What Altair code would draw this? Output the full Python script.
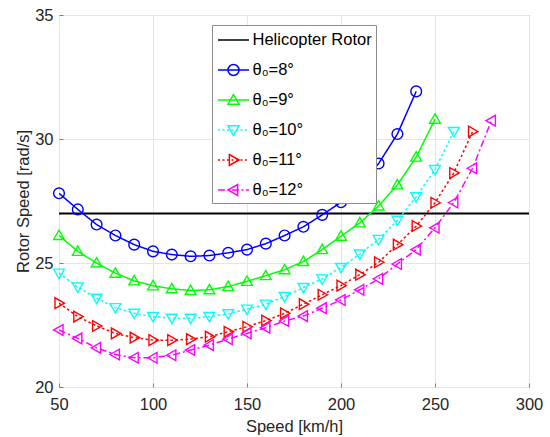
import altair as alt
import pandas as pd

# ---------------- data ----------------
series_names = ["Helicopter Rotor", "θ₀=8°", "θ₀=9°", "θ₀=10°", "θ₀=11°", "θ₀=12°"]
series_colors = ["#000000", "#0000ff", "#00ff00", "#00ffff", "#ff0000", "#ff00ff"]

heli_speed = [50, 300]
heli_rotor = [27.0, 27.0]

speed_8 = [50, 60, 70, 80, 90, 100, 110, 120, 130, 140, 150, 160, 170, 180, 190, 200, 210, 220, 230, 240]
rotor_8 = [27.81, 27.16, 26.55, 26.11, 25.74, 25.47, 25.34, 25.27, 25.30, 25.41, 25.54, 25.78, 26.11, 26.46,
           26.94, 27.45, 28.15, 29.01, 30.2, 31.92]

speed_9 = [50, 60, 70, 80, 90, 100, 110, 120, 130, 140, 150, 160, 170, 180, 190, 200, 210, 220, 230, 240, 250]
rotor_9 = [26.11, 25.47, 25.0, 24.59, 24.28, 24.08, 23.96, 23.89, 23.92, 24.05, 24.26, 24.49, 24.73, 25.06,
           25.54, 26.08, 26.62, 27.30, 28.15, 29.27, 30.8]

speed_10 = [50, 60, 70, 80, 90, 100, 110, 120, 130, 140, 150, 160, 170, 180, 190, 200, 210, 220, 230, 240, 250, 260]
rotor_10 = [24.59, 24.03, 23.58, 23.2, 22.97, 22.84, 22.77, 22.77, 22.84, 22.95, 23.14, 23.34, 23.65, 24.01,
            24.36, 24.82, 25.36, 25.95, 26.72, 27.67, 28.77, 30.3]

speed_11 = [50, 60, 70, 80, 90, 100, 110, 120, 130, 140, 150, 160, 170, 180, 190, 200, 210, 220, 230, 240, 250,
            260, 270]
rotor_11 = [23.38, 22.84, 22.46, 22.16, 21.99, 21.89, 21.89, 21.93, 22.03, 22.23, 22.43, 22.68, 22.97, 23.34,
            23.72, 24.09, 24.53, 25.03, 25.74, 26.49, 27.43, 28.63, 30.3]

speed_12 = [50, 60, 70, 80, 90, 100, 110, 120, 130, 140, 150, 160, 170, 180, 190, 200, 210, 220, 230, 240, 250,
            260, 270, 280]
rotor_12 = [22.30, 21.96, 21.58, 21.31, 21.18, 21.18, 21.28, 21.49, 21.69, 21.93, 22.16, 22.39, 22.66, 22.86,
            23.18, 23.51, 23.92, 24.36, 24.96, 25.54, 26.42, 27.44, 28.82, 30.74]

x_ticks = [50, 100, 150, 200, 250, 300]
y_ticks = [20, 25, 30, 35]

# ---------------- table ----------------
rows = []
for name, xs, ys in [
    (series_names[0], heli_speed, heli_rotor),
    (series_names[1], speed_8, rotor_8),
    (series_names[2], speed_9, rotor_9),
    (series_names[3], speed_10, rotor_10),
    (series_names[4], speed_11, rotor_11),
    (series_names[5], speed_12, rotor_12),
]:
    for x, y in zip(xs, ys):
        rows.append({"series": name, "speed": x, "rotor": y})
df = pd.DataFrame(rows)

# ---------------- styles ----------------
FONT = "Liberation Sans"
FS = 16.5
AXIS_GRAY = "#7f7f7f"
line_dashes = [[1, 0], [1, 0], [1, 0], [2.5, 2.5], [2.5, 2.5], [7, 3, 2, 3]]

marker_circle = "M1,0A1,1,0,1,1,-1,0A1,1,0,1,1,1,0Z"
marker_up = "M0,-1L1,0.75L-1,0.75Z"
marker_down = "M0,1L1,-0.75L-1,-0.75Z"
marker_right = "M1,0L-0.75,-1L-0.75,1Z"
marker_left = "M-1,0L0.75,-1L0.75,1Z"
plot_markers = [marker_circle, marker_up, marker_down, marker_right, marker_left]


def dash_path(pattern, x0=-1.55, x1=1.55):
    segs = []
    x = x0
    i = 0
    while x < x1 - 1e-9:
        end = min(x + pattern[i % len(pattern)], x1)
        if i % 2 == 0:
            segs.append(f"M{x:.3f},0L{end:.3f},0")
        x = end
        i += 1
    return "".join(segs)


s = 0.55
leg_circle = f"M{s},0A{s},{s},0,1,1,{-s},0A{s},{s},0,1,1,{s},0Z"
leg_up = f"M0,{-s}L{s},{0.75*s:.3f}L{-s},{0.75*s:.3f}Z"
leg_down = f"M0,{s}L{s},{-0.75*s:.3f}L{-s},{-0.75*s:.3f}Z"
leg_right = f"M{s},0L{-0.75*s:.3f},{-s}L{-0.75*s:.3f},{s}Z"
leg_left = f"M{-s},0L{0.75*s:.3f},{-s}L{0.75*s:.3f},{s}Z"

solid = dash_path([10])
dotted = dash_path([0.2, 0.25])
dashdot = dash_path([0.7, 0.25, 0.2, 0.25])
legend_paths = [solid, solid + leg_circle, solid + leg_up, dotted + leg_down, dotted + leg_right,
                dashdot + leg_left]

x_scale = alt.Scale(domain=[50, 300], nice=False, zero=False)
y_scale = alt.Scale(domain=[20, 35], nice=False, zero=False)

x_enc = alt.X("speed:Q", scale=x_scale,
              axis=alt.Axis(values=x_ticks, title="Speed [km/h]", format="d", labelFlush=False))
y_enc = alt.Y("rotor:Q", scale=y_scale,
              axis=alt.Axis(values=y_ticks, title="Rotor Speed [rad/s]", format="d", labelFlush=False))
x_noaxis = alt.X("speed:Q", scale=x_scale, axis=None)
y_noaxis = alt.Y("rotor:Q", scale=y_scale, axis=None)

color_scale = alt.Scale(domain=series_names, range=series_colors)

lines = alt.Chart(df).mark_line(clip=True).encode(
    x=x_enc,
    y=y_enc,
    color=alt.Color("series:N", scale=color_scale, legend=None),
    strokeDash=alt.StrokeDash("series:N", scale=alt.Scale(domain=series_names, range=line_dashes), legend=None),
    strokeWidth=alt.condition(alt.datum.series == "Helicopter Rotor", alt.value(2), alt.value(1.5)),
    order="speed:Q",
)

points = alt.Chart(df).transform_filter(alt.datum.series != "Helicopter Rotor").mark_point(
    filled=False, size=115, strokeWidth=1.4, opacity=1
).encode(
    x=x_noaxis,
    y=y_noaxis,
    color=alt.Color("series:N", scale=color_scale, legend=None),
    shape=alt.Shape("series:N", scale=alt.Scale(domain=series_names[1:], range=plot_markers), legend=None),
)

# inward tick marks (MATLAB style): a tick-only axis pulled 4 px inside the frame
tick_layer = alt.Chart(df).transform_filter("false").mark_point().encode(
    x=alt.X("speed:Q", scale=x_scale,
            axis=alt.Axis(orient="bottom", offset=-4, values=x_ticks, ticks=True, tickSize=4,
                          tickColor=AXIS_GRAY, tickWidth=1, labels=False, domain=False, grid=False,
                          title=None)),
    y=alt.Y("rotor:Q", scale=y_scale,
            axis=alt.Axis(orient="left", offset=-4, values=y_ticks, ticks=True, tickSize=4,
                          tickColor=AXIS_GRAY, tickWidth=1, labels=False, domain=False, grid=False,
                          title=None)),
)

leg = alt.Legend(
    title=None, orient="none", legendX=153, legendY=10,
    fillColor="white", strokeColor="#8c8c8c", padding=4,
    labelFont=FONT, labelFontSize=FS, labelColor="#000000", labelOffset=8,
    symbolOffset=6.5, rowPadding=10, symbolSize=400, symbolStrokeWidth=1.5,
    symbolFillColor="transparent",
)

legend_layer = alt.Chart(df).transform_filter("false").mark_point(
    filled=False, size=400, strokeWidth=1.5, opacity=1
).encode(
    x=x_noaxis,
    y=y_noaxis,
    color=alt.Color("series:N", scale=color_scale, legend=leg),
    shape=alt.Shape("series:N", scale=alt.Scale(domain=series_names, range=legend_paths), legend=leg),
)

chart = alt.layer(lines, points, tick_layer, legend_layer).resolve_scale(
    color="independent", shape="independent", strokeDash="independent"
).resolve_axis(
    x="independent", y="independent"
).properties(
    width=470, height=372,
    autosize=alt.AutoSizeParams(type="none"),
    padding={"left": 59, "top": 15, "right": 21, "bottom": 50},
).configure_view(
    stroke=AXIS_GRAY, strokeWidth=1
).configure_axis(
    labelFont=FONT, titleFont=FONT, labelFontSize=FS, titleFontSize=FS,
    labelColor="#262626", titleColor="#262626", titleFontWeight="normal",
    domain=False, ticks=False, grid=True, gridColor="#e4e4e4", gridWidth=1,
).configure_axisX(
    labelPadding=9, titlePadding=6,
).configure_axisY(
    labelPadding=6, titlePadding=3,
)

chart.save("out.html", embed_options={"renderer": "svg", "actions": False})
